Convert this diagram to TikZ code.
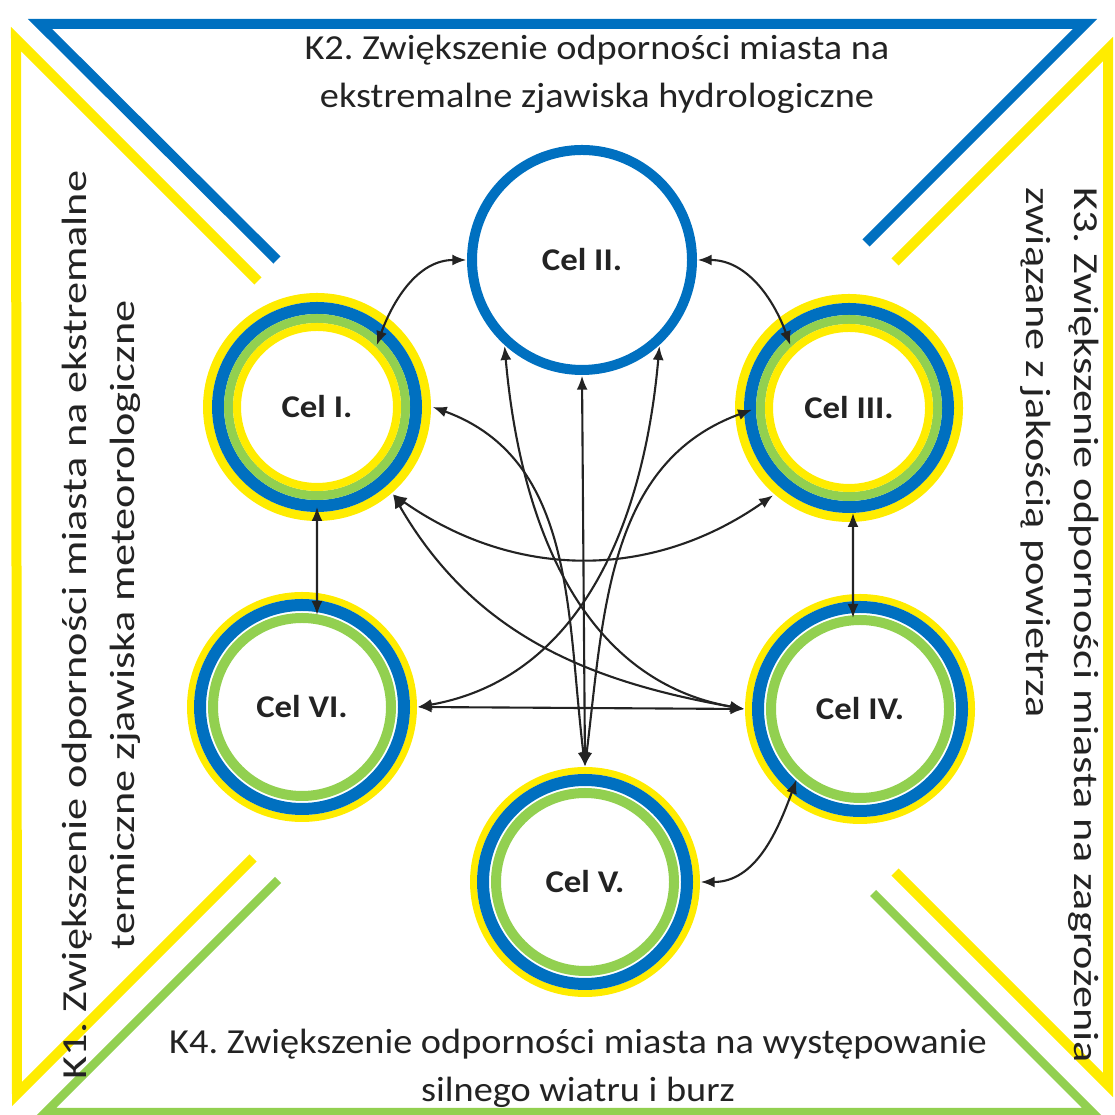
\documentclass[tikz,border=0pt]{standalone}
\usepackage{fontspec}
\setmainfont{Carlito}
\newfontfamily\celfont[FakeStretch=1.1]{Carlito}
\newfontfamily\kfont[FakeStretch=1.09]{Carlito}
\newfontfamily\kvfont[FakeStretch=1.26]{Carlito}
\frenchspacing
\usetikzlibrary{arrows.meta,calc}
\definecolor{celblue}{RGB}{0,112,192}
\definecolor{celyellow}{RGB}{255,236,0}
\definecolor{celgreen}{RGB}{146,208,80}
\definecolor{ink}{RGB}{35,35,35}
\tikzset{
  cel/.style={circle, minimum size=2.3cm, inner sep=0pt, font=\celfont\fontsize{9}{10}\selectfont\bfseries, text=ink},
  ktext/.style={align=center, font=\kfont\fontsize{10}{13.7}\selectfont, text=ink},
  kvtext/.style={align=center, font=\kvfont\fontsize{10}{13.7}\selectfont, text=ink},
  link/.style={{Latex[length=1.4mm,width=1.1mm]}-{Latex[length=1.4mm,width=1.1mm]}, line width=0.6pt, draw=ink},
  frame/.style={line width=1mm}
}
\begin{document}
\begin{tikzpicture}
            \useasboundingbox (0,0) rectangle (11.15,11.15);
            % Frame lines of the four groups
            \draw[frame, celblue] (2.77,8.55) -- (0.40,10.91) -- (10.85,10.91) -- (8.66,8.72);
            \draw[frame, celyellow] (2.58,8.34) -- (0.16,10.76) -- (0.17,0.21) -- (2.53,2.57);
            \draw[frame, celyellow] (8.95,8.53) -- (11.08,10.66) -- (11.08,0.30) -- (8.95,2.43);
            \draw[frame, celgreen, line width=0.85mm] (2.78,2.35) -- (0.46,0.03) -- (10.92,0.03) -- (8.73,2.22);
            % Group texts
            \node[ktext] (k2) at (5.97,10.41) {K2. Zwiększenie odporności miasta na\\ekstremalne zjawiska hydrologiczne};
            \node[kvtext, rotate=90] (k1) at (1.01,4.90) {K1. Zwiększenie odporności miasta na ekstremalne\\termiczne zjawiska meteorologiczne};
            \node[kvtext, rotate=-90, align=left] (k3) at (10.60,4.90) {K3. Zwiększenie odporności miasta na zagrożenia\\związane z jakością powietrza};
            \node[ktext] (k4) at (5.78,0.47) {K4. Zwiększenie odporności miasta na występowanie\\silnego wiatru i burz};
            % Goals
            \node[cel] (c2) at (5.82,8.55) {Cel II.};
            \node[cel] (c1) at (3.17,7.08) {Cel I.};
            \node[cel] (c3) at (8.49,7.07) {Cel III.};
            \node[cel] (c6) at (3.02,4.08) {Cel VI.};
            \node[cel] (c4) at (8.60,4.06) {Cel IV.};
            \node[cel] (c5) at (5.85,2.33) {Cel V.};
            % Rings: Cel II only blue
            \draw[celblue, line width=1mm] (c2.center) circle (1.10);
            % Rings: Cel I and Cel III
            \draw[celyellow, line width=0.9mm] (c1.center) circle (1.095);
            \draw[celblue, line width=1.2mm] (c1.center) circle (0.99);
            \draw[celgreen, line width=0.9mm] (c1.center) circle (0.885);
            \draw[celyellow, line width=0.8mm] (c1.center) circle (0.80);
            \draw[celyellow, line width=0.9mm] (c3.center) circle (1.095);
            \draw[celblue, line width=1.2mm] (c3.center) circle (0.99);
            \draw[celgreen, line width=0.9mm] (c3.center) circle (0.885);
            \draw[celyellow, line width=0.8mm] (c3.center) circle (0.80);
            % Rings: Cel IV, Cel V and Cel VI
            \draw[celyellow, line width=0.7mm] (c4.center) circle (1.115);
            \draw[celblue, line width=1.2mm] (c4.center) circle (1.02);
            \draw[celgreen, line width=1mm] (c4.center) circle (0.89);
            \draw[celyellow, line width=0.7mm] (c5.center) circle (1.115);
            \draw[celblue, line width=1.2mm] (c5.center) circle (1.02);
            \draw[celgreen, line width=1mm] (c5.center) circle (0.89);
            \draw[celyellow, line width=0.7mm] (c6.center) circle (1.115);
            \draw[celblue, line width=1.2mm] (c6.center) circle (1.02);
            \draw[celgreen, line width=1mm] (c6.center) circle (0.89);
            % Links between goals
            \draw[link] ($(c1)+(46:0.86)$) to[out=70,in=180] (c2.west);
            \draw[link] (c2.east) to[out=0,in=110] ($(c3)+(133:0.86)$);
            \draw[link] ($(c1)+(0,-1.0)$) -- ($(c6)+(0.15,0.92)$);
            \draw[link] ($(c3)+(0.04,-1.05)$) -- ($(c4)+(-0.07,0.91)$);
            \draw[link] (c5.east) to[out=0,in=-110] ($(c4)+(228:0.95)$);
            \draw[link] (c6.east) -- (c4.west);
            \draw[link] (c2.south) -- (c5.north);
            \draw[link] (c1.-49) to[out=-35,in=-145] (c3.-131);
            \draw[link] (c1.-49) to[out=-60,in=170] (c4.west);
            \draw[link] (c1.east) to[out=-20,in=97] (c5.north);
            \draw[link] ($(c3)+(181:0.97)$) to[out=200,in=83] (c5.north);
            \draw[link] (c2.228) to[out=-85,in=170] (c4.west);
            \draw[link] (c2.-48) to[out=-95,in=10] (c6.east);
        \end{tikzpicture}
\end{document}
